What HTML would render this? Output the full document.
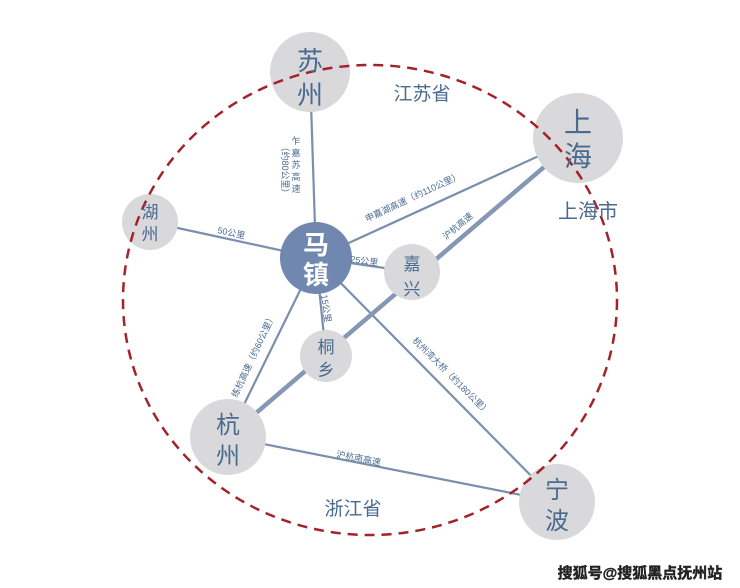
<!DOCTYPE html><html><head><meta charset="utf-8"><style>body{margin:0;background:#fff}svg{display:block}text{font-family:"Liberation Sans","Noto Sans CJK SC",sans-serif}</style></head><body>
<svg width="740" height="588" viewBox="0 0 740 588">
<g stroke="#7a8fad" stroke-width="2.2" fill="none">
<line x1="310" y1="72" x2="316" y2="258"/>
<line x1="150" y1="222" x2="316" y2="258"/>
<line x1="578" y1="138" x2="316" y2="258"/>
<line x1="412" y1="272" x2="316" y2="258"/>
<line x1="326" y1="356" x2="316" y2="258"/>
<line x1="228" y1="437" x2="316" y2="258"/>
<line x1="557" y1="502" x2="316" y2="258"/>
<line x1="228" y1="437" x2="557" y2="502"/>
<line x1="578" y1="138" x2="228" y2="437" stroke-width="4.5" stroke="#8497b5"/>
</g>
<g fill="#d9d9db">
<circle cx="310" cy="72" r="40"/><circle cx="578" cy="138" r="45"/><circle cx="150" cy="222" r="28"/>
<circle cx="412" cy="272" r="28"/><circle cx="326" cy="356" r="26"/><circle cx="228" cy="437" r="38"/><circle cx="557" cy="502" r="38"/>
</g>
<circle cx="316" cy="258" r="36" fill="#7088b0"/>
<ellipse cx="370" cy="300" rx="247" ry="235" fill="none" stroke="#a3222b" stroke-width="2.5" stroke-dasharray="10,7"/>
<g fill="#4a6a90" text-anchor="middle">
<text x="310" y="70" font-size="26">苏</text><text x="310" y="104" font-size="26">州</text>
<text x="578" y="132" font-size="28">上</text><text x="578" y="166" font-size="28">海</text>
<text x="150" y="218" font-size="17">湖</text><text x="150" y="240" font-size="17">州</text>
<text x="412" y="270" font-size="17">嘉</text><text x="412" y="295" font-size="17">兴</text>
<text x="326" y="353" font-size="17">桐</text><text x="326" y="376" font-size="17">乡</text>
<text x="228" y="433" font-size="24">杭</text><text x="228" y="464" font-size="24">州</text>
<text x="557" y="498" font-size="24">宁</text><text x="557" y="529" font-size="24">波</text>
<text x="588" y="218" font-size="20">上海市</text>
<text x="422" y="100" font-size="19">江苏省</text>
<text x="353" y="515" font-size="19">浙江省</text>
</g>
<g fill="#fff" text-anchor="middle" font-weight="bold"><text x="316" y="254" font-size="26">马</text><text x="316" y="284" font-size="26">镇</text></g>
<g fill="#4a6a90" font-size="9">
<text x="217" y="233" transform="rotate(12 217 233)">50公里</text>
<text x="350" y="262" transform="rotate(8 350 262)">25公里</text>
<text x="367" y="222" transform="rotate(-25 367 222)">申嘉湖高速（约110公里）</text>
<text x="446" y="240" transform="rotate(-40 446 240)">沪杭高速</text>
<text x="321" y="295" transform="rotate(82 321 295)">15公里</text>
<text x="237" y="398" transform="rotate(-65 237 398)">练杭高速（约60公里）</text>
<text x="412" y="341" transform="rotate(45 412 341)">杭州湾大桥（约180公里）</text>
<text x="336" y="457" transform="rotate(11 336 457)">沪杭南高速</text>
</g>
<g fill="#4a6a90" font-size="9" text-anchor="middle">
<text x="296" y="144">乍</text><text x="296" y="156">嘉</text><text x="296" y="168">苏</text><text x="296" y="180">高</text><text x="296" y="192">速</text>
<text x="282" y="170" transform="rotate(90 282 170)">（约80公里）</text>
</g>
<text x="640" y="578" font-size="15" font-weight="bold" fill="#222" stroke="#222" stroke-width="0.4" text-anchor="middle">搜狐号@搜狐黑点抚州站</text>
</svg></body></html>
